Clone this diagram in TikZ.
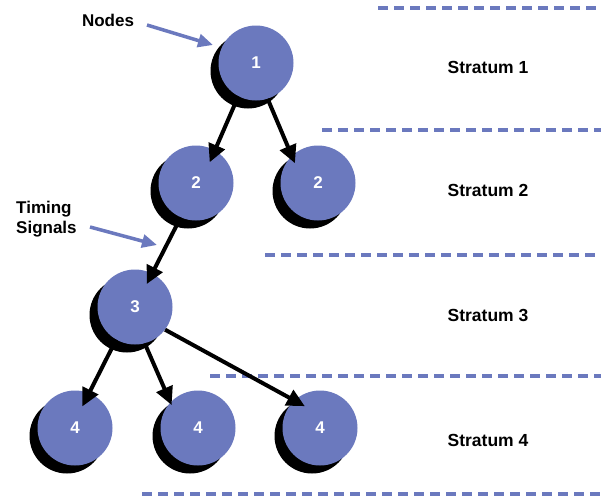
\documentclass[tikz,border=0pt]{standalone}
\usepackage{fontspec}
\setmainfont{Liberation Sans}
\usetikzlibrary{arrows.meta,shadows}
\definecolor{nodeblue}{RGB}{107,121,190}
\begin{document}
\begin{tikzpicture}[x=1pt,y=-1pt,
  tnode/.style={circle,fill=nodeblue,minimum size=75pt,inner sep=0pt,text=white,
    font=\bfseries\fontsize{17}{17}\selectfont,
    drop shadow={shadow xshift=-8pt,shadow yshift=-8pt,fill=black,opacity=1}},
  lbl/.style={font=\bfseries\fontsize{17}{20}\selectfont,inner sep=0pt},
  stratlbl/.style={font=\bfseries\fontsize{17.5}{20}\selectfont,inner sep=0pt},
  flow/.style={line width=4pt,-{Triangle[length=18pt,width=17pt]}},
  pointer/.style={nodeblue,line width=3.5pt,-{Triangle[length=15pt,width=13pt]}},
  stratline/.style={nodeblue,line width=4pt,dash pattern=on 10pt off 6pt}]
\useasboundingbox (0,0) rectangle (601,498);
\fill[white] (0,0) rectangle (601,498);

% strata boundaries
\draw[stratline] (378,8) -- (601,8);
\draw[stratline] (322,130) -- (601,130);
\draw[stratline] (265,255) -- (601,255);
\draw[stratline] (210,376) -- (601,376);
\draw[stratline] (142,494) -- (601,494);

% stratum labels
\node[stratlbl] (s1) at (488,67) {Stratum 1};
\node[stratlbl] (s2) at (488,190) {Stratum 2};
\node[stratlbl] (s3) at (488,315) {Stratum 3};
\node[stratlbl] (s4) at (488,440) {Stratum 4};

% nodes
\node[tnode] (n1) at (256,63) {1};
\node[tnode] (n2a) at (196,183) {2};
\node[tnode] (n2b) at (318,183) {2};
\node[tnode] (n3) at (135,307) {3};
\node[tnode] (n4a) at (75,428) {4};
\node[tnode] (n4b) at (198,428) {4};
\node[tnode] (n4c) at (320,428) {4};

% timing signals
\draw[flow,shorten >=-13pt] (n1.-118) -- (n2a.60);
\draw[flow,shorten >=-8pt] (n1.-72) -- (n2b.134);
\draw[flow,shorten >=-12pt] (n2a.-114) -- (n3.63);
\draw[flow,shorten >=-15pt] (n3.-120) -- (n4a.68);
\draw[flow,shorten >=-3pt] (n3.-75) -- (n4b.137);
\draw[flow,shorten >=-12pt] (n3.-37) -- (n4c.133);

% annotations
\node[lbl] (nodeslbl) at (108,20) {Nodes};
\coordinate (nodesfrom) at (147,25);
\coordinate (nodesto) at (213,45);
\draw[pointer] (nodesfrom) -- (nodesto);

\node[lbl,align=left,anchor=west] (timinglbl) at (16,219) {Timing\\Signals};
\coordinate (timingfrom) at (90,227);
\coordinate (timingto) at (157,245);
\draw[pointer] (timingfrom) -- (timingto);
\end{tikzpicture}
\end{document}
